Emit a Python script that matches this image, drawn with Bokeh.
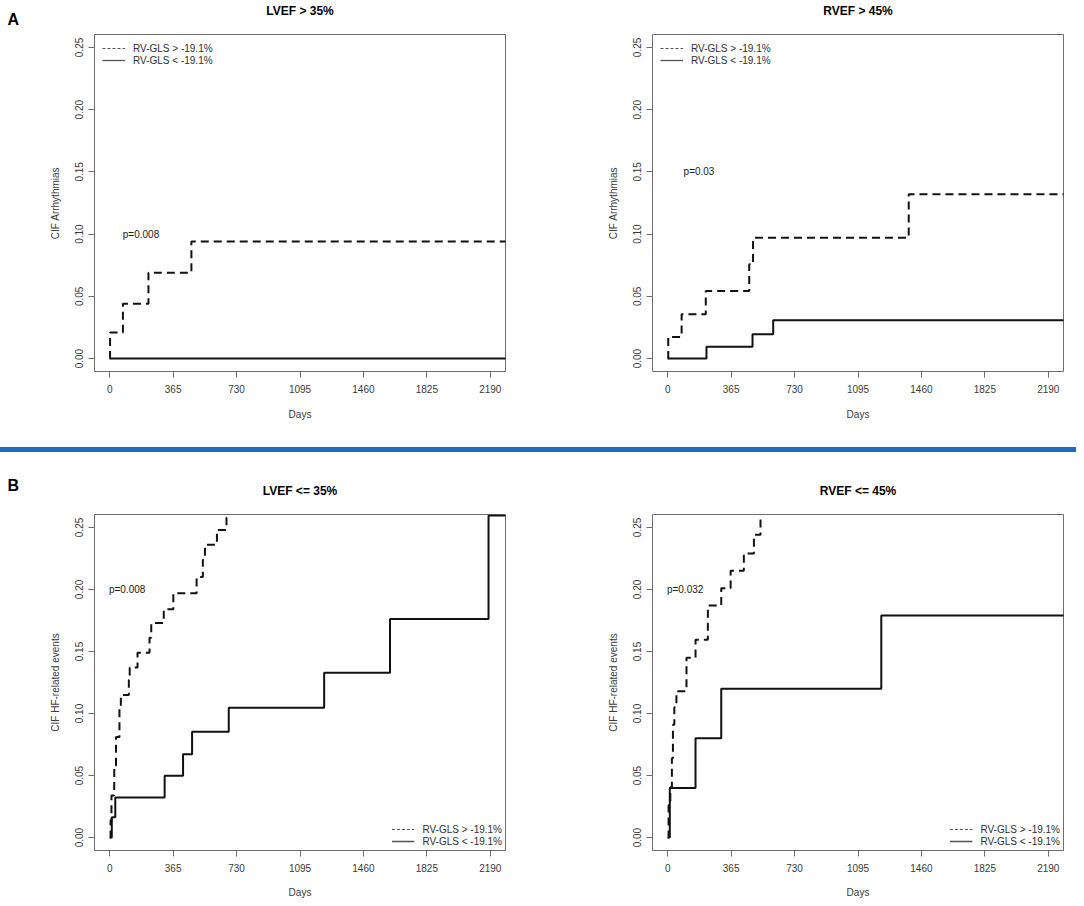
from bokeh.plotting import figure
from bokeh.models import (Range1d, FixedTicker, NumeralTickFormatter, Legend,
                          LegendItem, Label, ColumnDataSource, Div)
from bokeh.layouts import column, row
from bokeh.core.properties import value
from bokeh.embed import file_html
from bokeh.resources import INLINE

# ---------------- data ----------------
DAYS_TICKS = [0, 365, 730, 1095, 1460, 1825, 2190]
CIF_TICKS = [0.0, 0.05, 0.10, 0.15, 0.20, 0.25]
LEGEND_LABELS = ["RV-GLS > -19.1%", "RV-GLS < -19.1%"]

TITLES = ["LVEF > 35%", "RVEF > 45%", "LVEF <= 35%", "RVEF <= 45%"]
YLABELS = ["CIF Arrhythmias", "CIF Arrhythmias",
           "CIF HF-related events", "CIF HF-related events"]
P_TEXTS = ["p=0.008", "p=0.03", "p=0.008", "p=0.032"]
P_DAY = [180, 180, 100, 100]
P_CIF = [0.10, 0.15, 0.20, 0.20]
SECTION_LETTERS = ["A", "B"]

# Panel A left: LVEF > 35%
lv_hi_days = [0, 2, 76, 223, 470, 2400]
lv_hi_cif = [0.0, 0.021, 0.044, 0.069, 0.094, 0.094]
lv_lo_days = [0, 2400]
lv_lo_cif = [0.0, 0.0]

# Panel A right: RVEF > 45%
rv_hi_days = [0, 3, 80, 219, 469, 491, 1387, 2400]
rv_hi_cif = [0.0, 0.0174, 0.0356, 0.0543, 0.0757, 0.097, 0.132, 0.132]
rv_lo_days = [0, 223, 488, 607, 2400]
rv_lo_cif = [0.0, 0.0094, 0.0195, 0.0307, 0.0307]

# Panel B left: LVEF <= 35%
lvr_hi_days = [0, 5, 10, 26, 36, 56, 64, 110, 115, 160, 229, 239, 311, 366,
               500, 536, 548, 617, 672, 680]
lvr_hi_cif = [0.0, 0.014, 0.034, 0.058, 0.081, 0.105, 0.115, 0.127, 0.137,
              0.149, 0.161, 0.173, 0.184, 0.197, 0.210, 0.224, 0.236, 0.248,
              0.258, 0.258]
lvr_lo_days = [0, 12, 32, 316, 422, 474, 685, 1234, 1613, 2180, 2400]
lvr_lo_cif = [0.0, 0.0164, 0.0324, 0.0498, 0.0672, 0.0854, 0.1047, 0.1328,
              0.1761, 0.2596, 0.2596]

# Panel B right: RVEF <= 45%
rvr_hi_days = [0, 5, 15, 24, 30, 38, 50, 108, 160, 231, 308, 362, 438, 496,
               534, 545]
rvr_hi_cif = [0.0, 0.026, 0.0405, 0.064, 0.091, 0.105, 0.118, 0.145, 0.1595,
              0.187, 0.201, 0.215, 0.229, 0.244, 0.258, 0.258]
rvr_lo_days = [0, 12, 160, 308, 1229, 2400]
rvr_lo_cif = [0.0, 0.040, 0.080, 0.120, 0.179, 0.179]

# ---------------- style / layout ----------------
FONT = "Liberation Sans"
BOX = "#6e6e6e"
TXT = "#3a3a3a"
CURVE = "#111111"
FRAME_H = 337
FRAME_W = 411
PAGE_W = 1068
LEFT_W, LEFT_BL = 566, 94
RIGHT_W, RIGHT_BL = PAGE_W - 566, 86


def panel(i, hi_t, hi_c, lo_t, lo_c, width, b_left, height, b_top,
          b_bottom, xlabel_standoff, legend_loc, legend_margin,
          legend_padding):
    p = figure(width=width, height=height, title=None,
               x_range=Range1d(-87.6, 2277.6), y_range=Range1d(-0.0104, 0.2604),
               toolbar_location=None, output_backend="svg",
               min_border_left=b_left, min_border_right=width - b_left - FRAME_W,
               min_border_top=b_top, min_border_bottom=b_bottom)
    p.xgrid.visible = False
    p.ygrid.visible = False
    p.outline_line_color = BOX
    p.outline_line_width = 1
    p.background_fill_color = "white"
    p.border_fill_color = "white"

    for ax in (p.xaxis[0], p.yaxis[0]):
        ax.axis_line_color = None
        ax.major_tick_out = 6
        ax.major_tick_in = 0
        ax.major_tick_line_color = BOX
        ax.minor_tick_line_color = None
        ax.major_label_text_font = FONT
        ax.major_label_text_font_size = "10px"
        ax.major_label_text_color = TXT
        ax.axis_label_text_font = FONT
        ax.axis_label_text_font_size = "10px"
        ax.axis_label_text_font_style = "normal"
        ax.axis_label_text_color = TXT

    p.xaxis.ticker = FixedTicker(ticks=DAYS_TICKS)
    p.yaxis.ticker = FixedTicker(ticks=CIF_TICKS)
    p.yaxis.formatter = NumeralTickFormatter(format="0.00")
    p.yaxis.major_label_orientation = "vertical"
    p.xaxis.axis_label = "Days"
    p.yaxis.axis_label = YLABELS[i]
    p.xaxis.major_label_standoff = 7
    p.yaxis.major_label_standoff = 5
    p.xaxis.axis_label_standoff = xlabel_standoff
    p.yaxis.axis_label_standoff = 12

    src_hi = ColumnDataSource(dict(t=hi_t, c=hi_c))
    src_lo = ColumnDataSource(dict(t=lo_t, c=lo_c))
    p.step("t", "c", source=src_lo, mode="after", line_width=2,
           line_color=CURVE)
    p.step("t", "c", source=src_hi, mode="after", line_width=2,
           line_color=CURVE, line_dash="8 5")

    p.text(x=[P_DAY[i]], y=[P_CIF[i]], text=[P_TEXTS[i]],
           text_font=value(FONT), text_font_size="10px",
           text_align="center", text_baseline="middle", text_color="#222222")

    # legend-only line samples (thin, as in the original legend); no mark drawn
    nan = float("nan")
    leg_hi = p.line([nan], [nan], line_dash="3 2", line_width=1,
                    line_color="#555555")
    leg_lo = p.line([nan], [nan], line_width=1.3, line_color="#555555")
    legend = Legend(items=[LegendItem(label=LEGEND_LABELS[0], renderers=[leg_hi]),
                           LegendItem(label=LEGEND_LABELS[1], renderers=[leg_lo])],
                    location=legend_loc, margin=legend_margin,
                    padding=legend_padding, spacing=0,
                    label_text_font=FONT, label_text_font_size="10px",
                    label_text_color="#303030", label_height=12,
                    glyph_height=12, glyph_width=23, label_standoff=8,
                    background_fill_alpha=0, border_line_color=None)
    p.add_layout(legend)
    return p


def header(height, letter, letter_y, left_title, right_title, title_y):
    h = figure(width=PAGE_W, height=height, title=None,
               x_range=Range1d(0, PAGE_W), y_range=Range1d(height, 0),
               min_border=0, toolbar_location=None, output_backend="svg")
    h.axis.visible = False
    h.xgrid.visible = False
    h.ygrid.visible = False
    h.outline_line_color = None
    h.background_fill_color = "white"
    h.border_fill_color = "white"
    h.add_layout(Label(x=7, y=letter_y, text=letter, text_font=FONT,
                       text_font_size="16px", text_font_style="bold",
                       text_align="left", text_baseline="middle",
                       text_color="#000000"))
    centers = [LEFT_BL + FRAME_W / 2, LEFT_W + RIGHT_BL + FRAME_W / 2]
    for cx, t in zip(centers, [left_title, right_title]):
        h.add_layout(Label(x=cx, y=title_y, text=t, text_font=FONT,
                           text_font_size="12px", text_font_style="bold",
                           text_align="center", text_baseline="middle",
                           text_color="#000000"))
    return h


TOP_HEAD = 26
TOP_H = 8 + FRAME_H + 76
BOT_HEAD = 54
BOT_H = 8 + FRAME_H + 49

head_a = header(TOP_HEAD, SECTION_LETTERS[0], 18.5, TITLES[0], TITLES[1], 10)
tl = panel(0, lv_hi_days, lv_hi_cif, lv_lo_days, lv_lo_cif,
           LEFT_W, LEFT_BL, TOP_H, 8, 76, 13, "top_left", 8, 4)
tr = panel(1, rv_hi_days, rv_hi_cif, rv_lo_days, rv_lo_cif,
           RIGHT_W, RIGHT_BL, TOP_H, 8, 76, 13, "top_left", 8, 4)

divider = Div(text="", width=1076, height=5, margin=0,
              styles={"background-color": "#1e6cc0", "width": "1076px",
                      "height": "5px"})

head_b = header(BOT_HEAD, SECTION_LETTERS[1], 33, TITLES[2], TITLES[3], 38)
bl = panel(2, lvr_hi_days, lvr_hi_cif, lvr_lo_days, lvr_lo_cif,
           LEFT_W, LEFT_BL, BOT_H, 8, 49, 12, "bottom_right", 3, 2)
br = panel(3, rvr_hi_days, rvr_hi_cif, rvr_lo_days, rvr_lo_cif,
           RIGHT_W, RIGHT_BL, BOT_H, 8, 49, 12, "bottom_right", 3, 2)

layout = column(head_a, row(tl, tr, spacing=0), divider, head_b,
                row(bl, br, spacing=0), spacing=0)

open("out.html", "w").write(file_html(layout, INLINE))
